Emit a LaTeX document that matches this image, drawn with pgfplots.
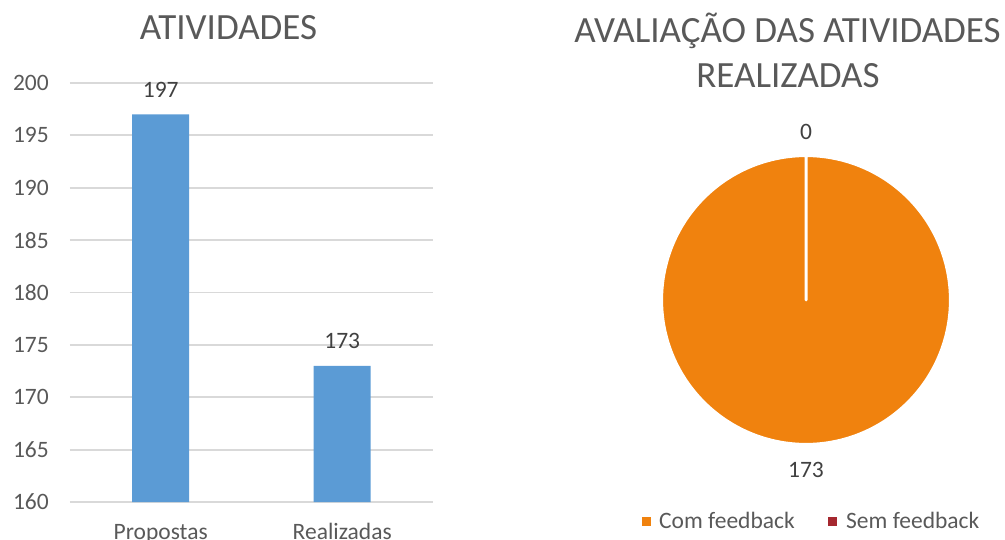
\documentclass[border=0pt]{standalone}
\usepackage{fontspec}
\setmainfont{Carlito}
\usepackage{pgfplots}
\pgfplotsset{compat=1.18}
\definecolor{barblue}{HTML}{5B9BD5}
\definecolor{pieorange}{HTML}{F0820E}
\definecolor{piered}{HTML}{A5282F}
\definecolor{txtgray}{HTML}{595959}
\definecolor{lbl}{HTML}{404040}
\definecolor{gridc}{HTML}{D9D9D9}
\def\com{173}
\def\sem{0}
\pgfmathsetmacro\pfrac{\com/(\com+\sem)}
\pgfmathsetmacro\ang{360*\pfrac}
\pgfmathsetmacro\angstep{\ang/240}
\pgfmathsetmacro\angsecond{\angstep}
\newcommand\smallfs{\fontsize{23.5}{28}\selectfont}
\newcommand\titlefs{\fontsize{37}{44}\selectfont}
\begin{document}
\begin{tikzpicture}[x=1pt,y=1pt]
\useasboundingbox (0,0) rectangle (1005,539);
\clip (0,0) rectangle (1005,539);
% Titles
\node[anchor=base, font=\titlefs, text=txtgray, inner sep=0pt] at (228.5,499) {ATIVIDADES};
\node[anchor=base, font=\titlefs, text=txtgray, inner sep=0pt] at (787.5,496) {AVALIAÇÃO DAS ATIVIDADES};
\node[anchor=base, font=\titlefs, text=txtgray, inner sep=0pt] at (788,451) {REALIZADAS};
% Bar chart
\begin{axis}[at={(70pt,37pt)}, anchor=south west, width=363pt, height=419pt, scale only axis,
 xmin=-0.5, xmax=1.5, ymin=160, ymax=200, ytick={160,165,...,200},
 xtick={0,1}, xticklabels={Propostas,Realizadas},
 ymajorgrids, grid style={gridc, line width=1.8pt},
 axis line style={draw=none}, major tick length=0pt,
 /pgf/number format/assume math mode=true,
 tick label style={font=\smallfs, text=txtgray, inner sep=0pt},
 yticklabel style={anchor=east, xshift=-21pt},
 xticklabel style={anchor=base, yshift=-37pt},
 nodes near coords,
 nodes near coords style={font=\smallfs, text=lbl, anchor=south, inner sep=0pt, yshift=17pt},
 clip=false]
\addplot[ybar, bar width=57pt, fill=barblue, draw=none] coordinates {(0,197) (1,173)};
\end{axis}
% Pie chart
\begin{axis}[at={(806pt,239pt)}, anchor=center, width=286pt, height=286pt, scale only axis,
 xmin=-1, xmax=1, ymin=-1, ymax=1, hide axis, clip=false]
\addplot[fill=pieorange, draw=white, line width=3pt, line join=round, line cap=round,
 samples at={-1,0,\angsecond,...,\ang}, variable=\t]
 ({(t<0)?0:(1.01*cos(90-t))},{(t<0)?0:(1.01*sin(90-t))});
\node[font=\smallfs, text=lbl, inner sep=0pt] at (axis cs:0,1.175) {\sem};
\node[font=\smallfs, text=lbl, inner sep=0pt] at (axis cs:0,-1.19) {\com};
\end{axis}
% Legend
\fill[pieorange] (641.5,13) rectangle (650.5,22);
\node[anchor=base west, font=\smallfs, text=txtgray, inner sep=0pt] at (659,11) {Com feedback};
\fill[piered] (828,13) rectangle (837,22);
\node[anchor=base west, font=\smallfs, text=txtgray, inner sep=0pt] at (846,11) {Sem feedback};
\end{tikzpicture}
\end{document}
